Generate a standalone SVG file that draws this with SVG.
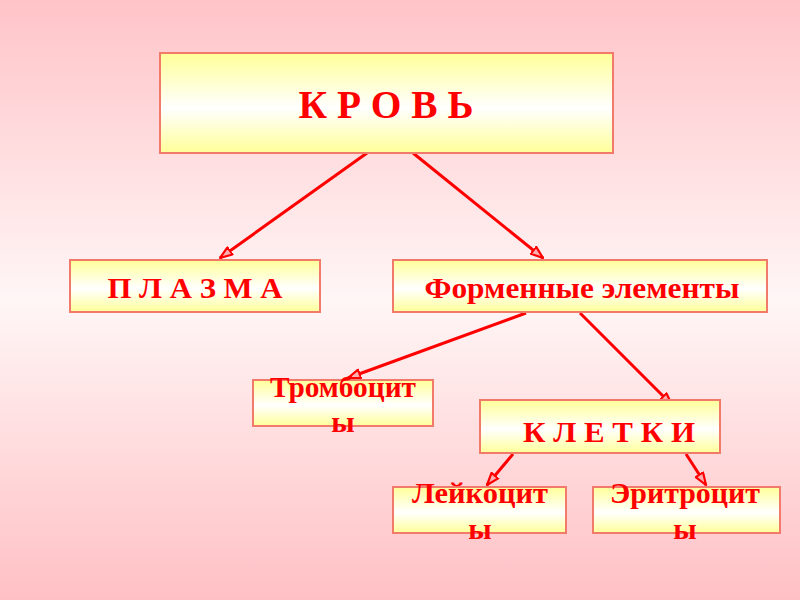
<svg xmlns="http://www.w3.org/2000/svg" width="800" height="600" viewBox="0 0 800 600">
<defs>
<linearGradient id="bg" x1="0" y1="0" x2="0" y2="1">
<stop offset="0" stop-color="#ffc4c8"/>
<stop offset="0.5" stop-color="#fff6f6"/>
<stop offset="1" stop-color="#ffc0c4"/>
</linearGradient>
<linearGradient id="box" x1="0" y1="0" x2="0" y2="1">
<stop offset="0" stop-color="#ffff99"/>
<stop offset="0.55" stop-color="#ffffff"/>
<stop offset="1" stop-color="#ffff99"/>
</linearGradient>
<marker id="ah" viewBox="0 0 16 12" refX="15" refY="6" markerWidth="14" markerHeight="11" markerUnits="userSpaceOnUse" orient="auto">
<path d="M1,1 L15,6 L1,11 Z" fill="#ffb0b0" stroke="#ff0000" stroke-width="2.5" stroke-linejoin="round"/>
</marker>
<style>
.b{fill:url(#box);stroke:#f27a6a;stroke-width:2}
.t{font-family:"Liberation Serif","Times New Roman",serif;font-weight:bold;fill:#ff0000;text-anchor:middle}
.c{stroke:#ff0000;stroke-width:3;fill:none;marker-end:url(#ah)}
</style>
</defs>
<rect width="800" height="600" fill="url(#bg)"/>
<g id="connectors">
<line class="c" x1="367" y1="153" x2="220" y2="258"/>
<line class="c" x1="413" y1="153" x2="543" y2="258"/>
<line class="c" x1="526" y1="313" x2="348" y2="378"/>
<line class="c" x1="580" y1="313" x2="672" y2="405"/>
<line class="c" x1="513" y1="454" x2="487" y2="485"/>
<line class="c" x1="686" y1="454" x2="706" y2="485"/>
</g>
<g id="krov">
<rect class="b" x="160" y="53" width="453" height="100"/>
<text class="t" x="386" y="118" font-size="39" textLength="175" lengthAdjust="spacingAndGlyphs">К Р О В Ь</text>
</g>
<g id="plazma">
<rect class="b" x="70" y="260" width="250" height="52"/>
<text class="t" x="195" y="298" font-size="30" textLength="175" lengthAdjust="spacingAndGlyphs">П Л А З М А</text>
</g>
<g id="formennye">
<rect class="b" x="393" y="260" width="374" height="52"/>
<text class="t" x="582" y="298" font-size="30" textLength="315" lengthAdjust="spacingAndGlyphs">Форменные элементы</text>
</g>
<g id="trombocity">
<rect class="b" x="253" y="380" width="180" height="46"/>
<text class="t" x="343" y="397" font-size="30" textLength="146" lengthAdjust="spacingAndGlyphs">Тромбоцит</text>
<text class="t" x="343" y="432" font-size="30">ы</text>
</g>
<g id="kletki">
<rect class="b" x="480" y="400" width="240" height="53"/>
<text class="t" x="609" y="442" font-size="30" textLength="172" lengthAdjust="spacingAndGlyphs">К Л Е Т К И</text>
</g>
<g id="leikocity">
<rect class="b" x="393" y="487" width="173" height="46"/>
<text class="t" x="480" y="503" font-size="30" textLength="136" lengthAdjust="spacingAndGlyphs">Лейкоцит</text>
<text class="t" x="480" y="539" font-size="30">ы</text>
</g>
<g id="eritrocity">
<rect class="b" x="593" y="487" width="187" height="46"/>
<text class="t" x="685" y="503" font-size="30" textLength="150" lengthAdjust="spacingAndGlyphs">Эритроцит</text>
<text class="t" x="685" y="539" font-size="30">ы</text>
</g>
</svg>
